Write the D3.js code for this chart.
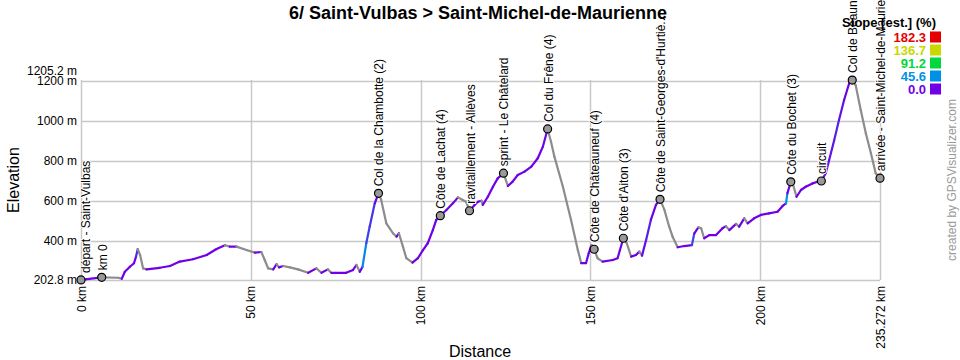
<!DOCTYPE html>
<html><head><meta charset="utf-8">
<script src="https://cdn.jsdelivr.net/npm/d3@7"></script>
<style>
body{margin:0;background:#fff;}
svg{display:block;font-family:"Liberation Sans",Arial,sans-serif;}
</style></head>
<body><svg id="c" width="960" height="360"></svg>
<script>
const title = "6/ Saint-Vulbas > Saint-Michel-de-Maurienne";
const distKm = [0,6.1,11.0,12.0,12.9,14.4,15.6,16.2,16.7,17.4,18.3,19.3,23.2,26.2,29.1,33.0,37.0,39.9,42.4,43.8,45.8,48.7,51.2,53.1,54.1,55.1,56.6,57.6,58.3,59.5,61.5,63.9,66.9,69.3,70.8,72.7,73.7,78.1,80.1,81.1,82.1,82.9,84.0,85.0,86.5,87.6,88.4,89.9,91.9,92.9,93.6,94.8,95.8,97.6,99.2,100.7,102.1,103.6,104.6,105.8,107.6,109.5,111.0,112.4,113.4,114.4,115.9,116.9,117.9,118.3,119.8,121.3,122.7,124.4,125.7,127.1,128.6,130.6,132.6,134.5,136.0,137.4,138.4,139.4,141.9,144.3,146.3,147.3,148.7,149.5,150.3,151.1,152.1,153.6,156.6,158.0,158.7,159.7,160.7,162.0,163.4,164.4,165.2,166.4,167.8,169.3,170.5,171.8,173.2,174.2,175.7,177.6,179.9,180.6,181.8,182.6,183.5,185.0,187.0,188.9,189.9,190.9,192.9,193.8,195.3,196.3,198.2,200.2,202.6,205.1,206.6,207.6,208.0,209.0,209.7,210.7,212.0,213.4,215.4,216.9,218.0,219.3,220.3,221.8,223.2,224.7,226.2,227.1,228.1,229.6,231.1,232.6,234.0,235.272];
const elevM = [203,216,214,209,244,269,287,320,357,328,261,256,264,273,295,307,328,358,377,370,370,353,340,343,303,261,256,282,266,273,266,256,239,261,239,256,239,239,253,278,244,269,387,470,587,637,604,487,437,420,437,370,312,290,312,353,387,453,504,525,554,587,617,604,595,550,579,595,600,579,620,670,712,738,674,696,729,746,771,813,871,960,896,821,670,504,353,287,287,337,378,357,312,295,303,312,353,412,387,320,328,345,325,403,504,579,607,554,470,420,367,373,378,437,467,462,412,428,428,462,473,453,484,470,512,487,512,529,537,545,574,587,637,695,679,620,654,670,687,695,699,738,804,904,1005,1105,1189,1205,1180,1055,938,838,738,713];
const wpNames = ["départ - Saint-Vulbas","km 0","Col de la Chambotte (2)","Côte de Lachat (4)","ravitaillement - Allèves","sprint - Le Châtelard","Col du Frêne (4)","Côte de Châteauneuf (4)","Côte d'Aiton (3)","Côte de Saint-Georges-d'Hurtiè...","Côte du Bochet (3)","circuit","Col de Beaune","arrivée - Saint-Michel-de-Maurienne"];
const wpKm = [0,6.1,87.6,105.8,114.4,124.4,137.4,151.1,159.7,170.5,209.0,218.0,227.1,235.272];
const wpElev = [203,216,637,525,550,738,960,357,412,607,695,699,1205,713];
const xTicks = [0,50,100,150,200,235.272];
const xTickLabels = ["0 km","50 km","100 km","150 km","200 km","235.272 km"];
const yTicks = [202.8,400,600,800,1000,1200];
const yTickLabels = ["202.8 m","400 m","600 m","800 m","1000 m","1200 m"];
const yMaxLabel = "1205.2 m";
const legendValues = ["182.3","136.7","91.2","45.6","0.0"];
const legendColors = ["#e60000","#c8d800","#00d83c","#0090e6","#7000e6"];

const svg = d3.select("#c");
const L=81,R=880,T=80,B=280;
const x = d3.scaleLinear().domain([0,235.272]).range([L,R]);
const y = d3.scaleLinear().domain([202.8,1205.2]).range([B,T]);

// gridlines
const grid = svg.append("g");
grid.selectAll("line.h").data(yTicks).enter().append("line")
  .attr("x1",L).attr("x2",R).attr("y1",d=>Math.round(y(d))+0.5).attr("y2",d=>Math.round(y(d))+0.5)
  .attr("stroke","#c8c8c8").attr("stroke-width",1.5);
grid.selectAll("line.v").data(xTicks).enter().append("line")
  .attr("y1",T).attr("y2",B).attr("x1",d=>Math.round(x(d))+0.5).attr("x2",d=>Math.round(x(d))+0.5)
  .attr("stroke","#c8c8c8").attr("stroke-width",1.5);

// y axis labels
const yAxis = d3.axisLeft(y).tickValues(yTicks).tickSize(0).tickPadding(4)
  .tickFormat((d,i)=>yTickLabels[i]);
const yg = svg.append("g").attr("transform",`translate(${L},0)`).call(yAxis);
yg.select(".domain").remove();
yg.selectAll("text").attr("font-size",12).attr("fill","#000").attr("font-family","Liberation Sans,Arial,sans-serif");
yg.append("text").attr("x",-4).attr("y",y(1205.2)-5).attr("text-anchor","end")
  .attr("font-size",12).attr("fill","#000").text(yMaxLabel);

// x axis labels
const xAxis = d3.axisBottom(x).tickValues(xTicks).tickSize(0).tickFormat((d,i)=>xTickLabels[i]);
const xg = svg.append("g").attr("transform",`translate(0,${B})`).call(xAxis);
xg.select(".domain").remove();
xg.selectAll("text").attr("font-size",12).attr("fill","#000").attr("font-family","Liberation Sans,Arial,sans-serif")
  .attr("text-anchor","end").attr("dy",null).attr("y",0)
  .attr("transform","translate(4,6) rotate(-90)").attr("x",0);

// profile
const pts = distKm.map((d,i)=>[d,elevM[i]]);
const climbColor = d3.scaleLinear().domain([6,11]).range([legendColors[4],legendColors[3]]).clamp(true);
const prof = svg.append("g");
for(let i=1;i<pts.length;i++){
  const a=pts[i-1], b=pts[i];
  const slope = (b[1]-a[1])/((b[0]-a[0])*1000)*100;
  prof.append("line").attr("x1",x(a[0])).attr("y1",y(a[1])).attr("x2",x(b[0])).attr("y2",y(b[1]))
    .attr("stroke", slope<0 ? "#8c8c8c" : climbColor(slope)).attr("stroke-width",2.2).attr("stroke-linecap","round");
}

// waypoints
const wp = svg.append("g");
wpNames.forEach((n,i)=>{
  const cx=x(wpKm[i]), cy=y(wpElev[i]);
  wp.append("circle").attr("cx",cx).attr("cy",cy).attr("r",4).attr("fill","#999").attr("stroke","#000").attr("stroke-width",1.2);
  wp.append("text").attr("transform",`translate(${cx+(i===0?9:5)},${cy-7}) rotate(-90)`)
    .attr("font-size",12).attr("fill","#000")
    .attr("stroke","#fff").attr("stroke-width",2).attr("paint-order","stroke").text(n);
});

// title
svg.append("text").attr("x",478).attr("y",19).attr("text-anchor","middle")
  .attr("font-size",18).attr("font-weight","bold").attr("fill","#000").text(title);

// axis titles
svg.append("text").attr("transform","translate(19,180) rotate(-90)").attr("text-anchor","middle")
  .attr("font-size",16).attr("fill","#000").text("Elevation");
svg.append("text").attr("x",480).attr("y",357).attr("text-anchor","middle")
  .attr("font-size",16).attr("fill","#000").text("Distance");

// credit
svg.append("text").attr("transform","translate(956,180) rotate(-90)").attr("text-anchor","middle")
  .attr("font-size",12).attr("fill","#999").text("created by GPSVisualizer.com");

// legend
const lg = svg.append("g");
lg.append("text").attr("x",936).attr("y",27).attr("text-anchor","end").attr("font-size",13)
  .attr("font-weight","bold").attr("fill","#000").text("Slope [est.] (%)");
legendValues.forEach((v,i)=>{
  const cy = 37 + i*13;
  lg.append("text").attr("x",926).attr("y",cy+4.5).attr("text-anchor","end").attr("font-size",13)
    .attr("font-weight","bold").attr("fill",legendColors[i]).text(v);
  lg.append("rect").attr("x",930).attr("y",cy-5.5).attr("width",11).attr("height",11).attr("fill",legendColors[i]);
});
</script></body></html>
